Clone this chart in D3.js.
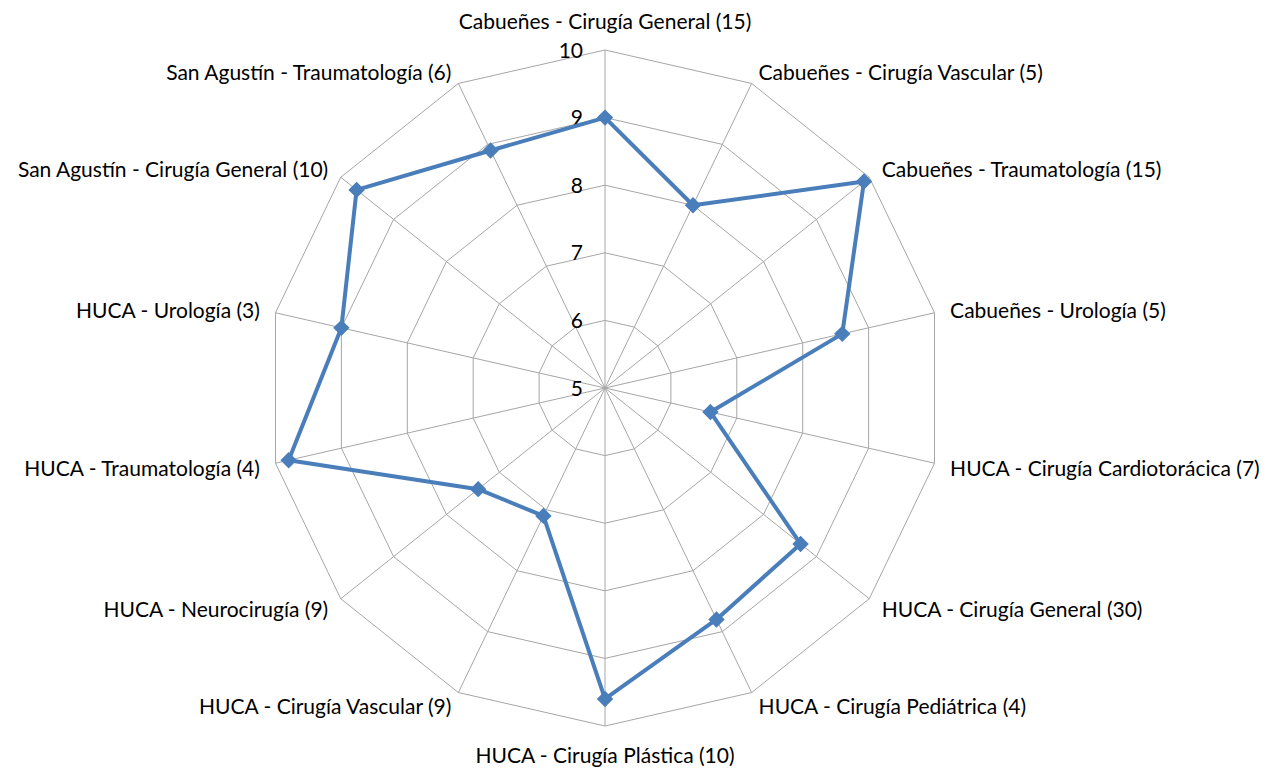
<!DOCTYPE html>
<html>
<head>
<meta charset="utf-8">
<script src="https://cdn.jsdelivr.net/npm/d3@7"></script>
<style>
  html, body { margin: 0; padding: 0; background: #ffffff; }
  svg text { font-family: "Lato", "Open Sans", sans-serif; fill: #000; }
</style>
</head>
<body>
<svg id="chart" width="1273" height="771"></svg>
<script>
const categories = [
  "Cabueñes - Cirugía General (15)",
  "Cabueñes - Cirugía Vascular (5)",
  "Cabueñes - Traumatología (15)",
  "Cabueñes - Urología (5)",
  "HUCA - Cirugía Cardiotorácica (7)",
  "HUCA - Cirugía General (30)",
  "HUCA - Cirugía Pediátrica (4)",
  "HUCA - Cirugía Plástica (10)",
  "HUCA - Cirugía Vascular (9)",
  "HUCA - Neurocirugía (9)",
  "HUCA - Traumatología (4)",
  "HUCA - Urología (3)",
  "San Agustín - Cirugía General (10)",
  "San Agustín - Traumatología (6)"
];
const values = [9.0, 8.0, 9.9, 8.6, 6.6, 8.7, 8.8, 9.6, 7.1, 7.4, 9.8, 9.0, 9.7, 8.9];
const tickValues = [5, 6, 7, 8, 9, 10];

const svg = d3.select("#chart");
const cx = 605, cy = 388, R = 338;
const n = categories.length;
const r = d3.scaleLinear().domain([5, 10]).range([0, R]);
const ang = d3.scaleLinear().domain([0, n]).range([0, 2 * Math.PI]);
const pt = (i, rad) => [cx + rad * Math.sin(ang(i)), cy - rad * Math.cos(ang(i))];

const g = svg.append("g");
// rings
tickValues.filter(t => t > 5).forEach(t => {
  g.append("polygon")
    .attr("points", d3.range(n).map(i => pt(i, r(t)).join(",")).join(" "))
    .attr("fill", "none").attr("stroke", "#a6a6a6").attr("stroke-width", 1);
});
// spokes
d3.range(n).forEach(i => {
  const [x, y] = pt(i, R);
  g.append("line").attr("x1", cx).attr("y1", cy).attr("x2", x).attr("y2", y)
    .attr("stroke", "#a6a6a6").attr("stroke-width", 1);
});
// tick labels
g.selectAll(".tick").data(tickValues).enter().append("text")
  .attr("x", cx - 22).attr("y", d => cy - r(d)).attr("dy", "0.36em")
  .attr("text-anchor", "end").attr("font-size", 21).attr("fill", "#1a1a1a").text(d => d);
// category labels
const fs = 21;
categories.forEach((c, i) => {
  const s = Math.sin(ang(i)), co = Math.cos(ang(i));
  const x = cx + (R + 16) * s;
  let y = cy - (R + 12) * co;
  if (Math.abs(s) < 0.01) y += -co * 17; else if (co < 0) y += 3;
  const anchor = Math.abs(s) < 0.01 ? "middle" : (s > 0 ? "start" : "end");
  g.append("text").attr("x", Math.abs(s) < 0.01 ? cx : x).attr("y", y).attr("dy", "0.36em")
    .attr("text-anchor", anchor).attr("font-size", fs).attr("fill", "#1a1a1a").text(c);
});
// series
const line = d3.lineRadial().angle((d, i) => ang(i)).radius(d => r(d)).curve(d3.curveLinearClosed);
g.append("path").attr("transform", `translate(${cx},${cy})`)
  .attr("d", line(values)).attr("fill", "none").attr("stroke", "#4a7ebb")
  .attr("stroke-width", 4).attr("stroke-linejoin", "round");
const diamond = d3.symbol().type(d3.symbolDiamond2).size(130);
values.forEach((v, i) => {
  const [x, y] = pt(i, r(v));
  g.append("path").attr("d", diamond()).attr("transform", `translate(${x},${y})`)
    .attr("fill", "#4a7ebb").attr("stroke", "#4a7ebb").attr("stroke-width", 1.5);
});
</script>
</body>
</html>
